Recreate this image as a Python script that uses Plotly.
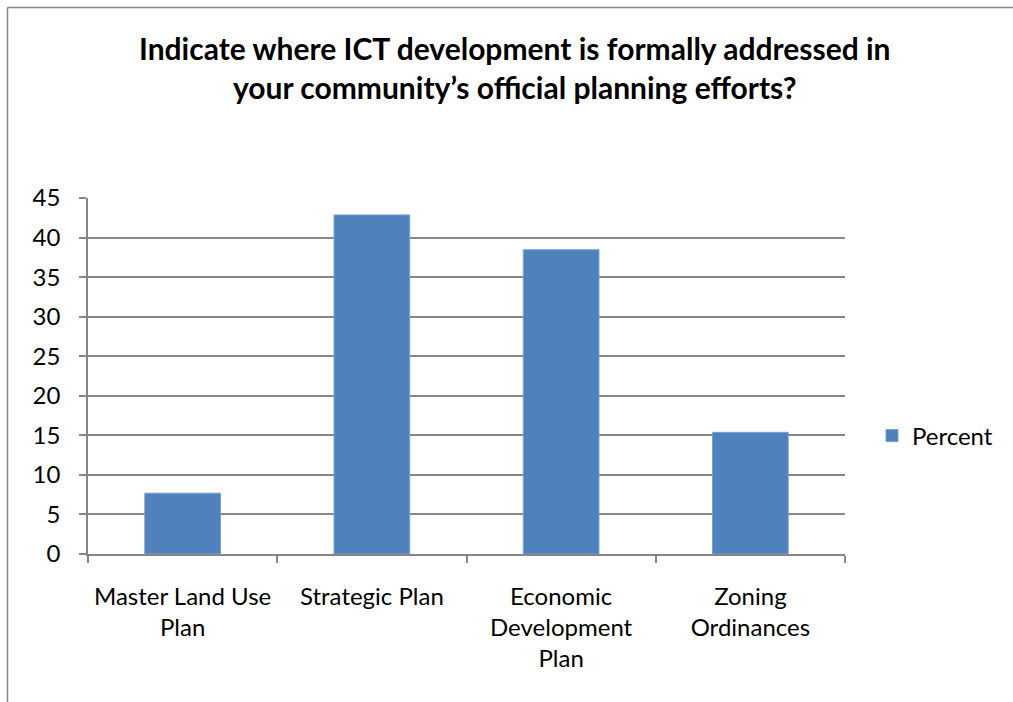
import plotly.graph_objects as go

# Survey responses: where ICT development is formally addressed
categories = [
    "Master Land Use<br>Plan",
    "Strategic Plan",
    "Economic<br>Development<br>Plan",
    "Zoning<br>Ordinances",
]
percent = [7.69, 42.86, 38.46, 15.38]
y_ticks = [0, 5, 10, 15, 20, 25, 30, 35, 40, 45]

FONT = "Lato, Carlito, Calibri, sans-serif"
GRID = "#868686"
BAR = "#4f81bd"

W, H = 1013, 702
L, R, T, B = 88, 845, 198, 554  # plot area in pixels


def px_x(x):
    return (x - L) / (R - L)


def px_y(y):
    return (B - y) / (B - T)


fig = go.Figure(
    go.Bar(
        x=categories,
        y=percent,
        name="Percent",
        marker=dict(color=BAR, line=dict(color="#7a9fd0", width=1)),
        showlegend=True,
    )
)

fig.update_layout(
    width=W,
    height=H,
    margin=dict(l=L, r=W - R, t=T, b=H - B),
    paper_bgcolor="white",
    plot_bgcolor="white",
    bargap=0.6,
    font=dict(family=FONT, size=24, color="black"),
    showlegend=True,
    legend=dict(
        x=px_x(872),
        y=px_y(436),
        xanchor="left",
        yanchor="middle",
        font=dict(size=24),
        itemwidth=30,
    ),
    annotations=[
        dict(
            text="Indicate where ICT development is formally addressed in<br>"
                 "your community\u2019s official planning efforts?",
            x=px_x(515),
            y=px_y(67),
            xref="paper",
            yref="paper",
            xanchor="center",
            yanchor="middle",
            showarrow=False,
            font=dict(family=FONT, size=30, color="black", weight="bold"),
        )
    ],
    shapes=[
        # chart frame
        dict(type="line", xref="paper", yref="paper",
             x0=px_x(7.5), x1=px_x(1020), y0=px_y(7.5), y1=px_y(7.5),
             line=dict(color=GRID, width=1.5)),
        dict(type="line", xref="paper", yref="paper",
             x0=px_x(7.5), x1=px_x(7.5), y0=px_y(7.5), y1=px_y(710),
             line=dict(color=GRID, width=1.5)),
    ],
)

fig.update_yaxes(
    range=[0, 45],
    tickvals=y_ticks,
    showgrid=True,
    gridcolor=GRID,
    gridwidth=1.6,
    showline=True,
    linecolor=GRID,
    linewidth=1.6,
    ticks="outside",
    ticklen=7,
    tickcolor=GRID,
    tickwidth=1.6,
    ticklabelstandoff=14,
    zeroline=False,
    fixedrange=True,
)

fig.update_xaxes(
    showline=True,
    linecolor=GRID,
    linewidth=1.6,
    ticks="outside",
    tickson="boundaries",
    ticklen=7,
    tickcolor=GRID,
    tickwidth=1.6,
    ticklabelstandoff=20,
    showgrid=False,
    fixedrange=True,
)

fig.write_html("out.html")
